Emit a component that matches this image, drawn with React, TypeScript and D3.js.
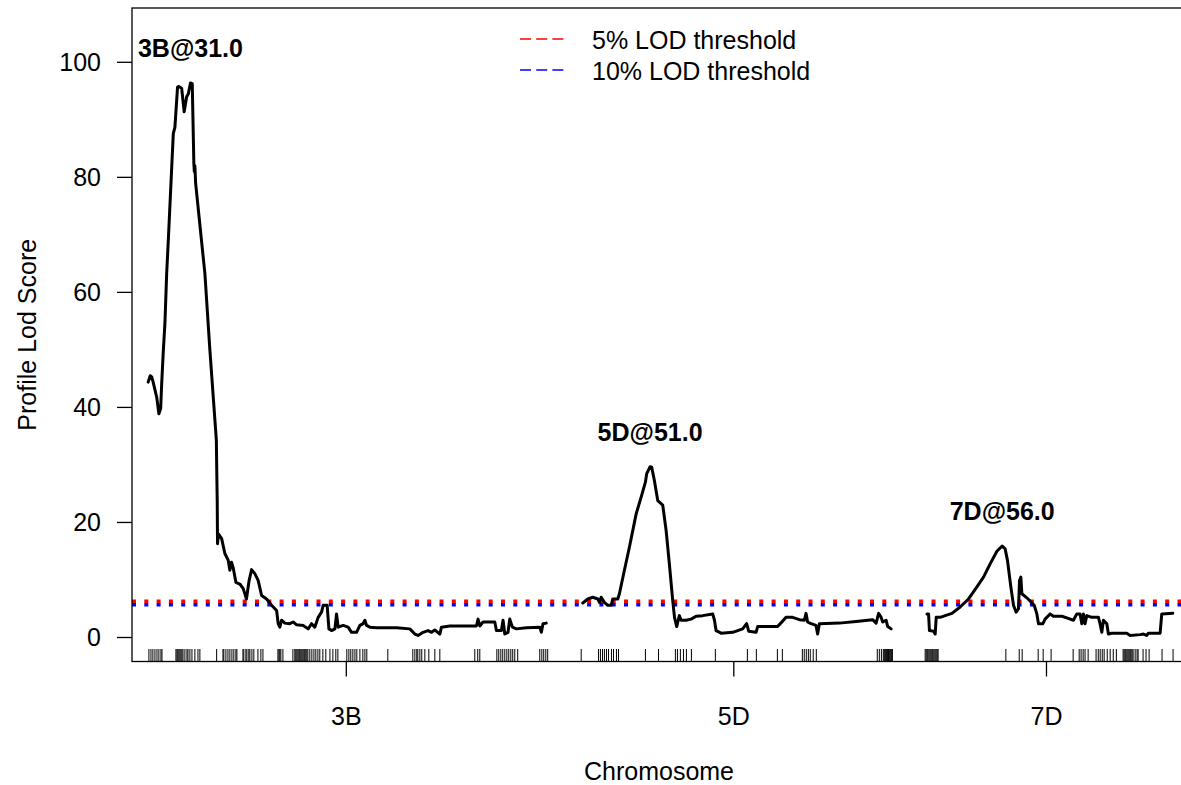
import React from "react";
import * as d3 from "d3";

// ---------- data ----------
const chromosomes = ["3B", "5D", "7D"];
const chromLengths = [274.1, 215.9, 172.3]; // cM
const chromGap = 18.7; // cM between chromosomes

// profile LOD curves: [position cM, LOD]
const lod3B: [number, number][] = [
  [2.2, 44.4], [3.6, 45.5], [4.6, 45.3], [5.6, 44.4], [8.0, 41.8], [9.5, 38.9], [10.7, 39.8],
  [11.4, 44.1], [12.4, 49.3], [13.6, 54.6], [14.8, 63.3], [15.9, 69.0], [19.3, 87.6], [20.4, 88.7],
  [22.2, 95.7], [23.1, 95.8], [25.0, 95.5], [26.7, 91.4], [28.4, 94.0], [29.5, 94.5], [31.0, 96.4],
  [32.2, 96.3], [33.3, 82.4], [33.6, 81.0], [34.0, 82.0], [34.5, 79.0], [38.5, 69.0], [40.8, 63.3],
  [44.2, 50.0], [46.5, 41.8], [48.6, 34.3], [49.0, 27.0], [49.2, 23.8], [49.4, 16.3], [50.0, 18.0],
  [52.2, 17.2], [54.4, 14.6], [56.7, 13.4], [57.8, 11.7], [58.9, 13.1], [60.0, 12.2], [61.9, 9.6],
  [64.6, 9.3], [66.9, 8.5], [69.1, 6.7], [70.9, 9.9], [72.6, 11.8], [74.8, 11.1], [77.1, 9.9],
  [79.4, 7.3], [82.8, 6.7], [86.2, 5.6], [89.6, 4.7], [90.7, 2.4], [91.8, 1.8], [93.0, 3.0],
  [95.2, 2.5], [98.6, 2.4], [100.9, 2.7], [103.2, 2.2], [107.7, 2.1], [111.1, 1.5], [113.4, 2.4],
  [115.6, 1.8], [117.9, 3.5], [120.2, 4.4], [121.3, 5.6], [124.0, 5.6], [125.2, 1.5], [127.0, 1.2],
  [129.3, 1.5], [130.4, 4.1], [131.5, 1.8], [134.9, 2.1], [138.3, 1.8], [140.6, 0.9], [144.0, 0.9],
  [146.3, 2.1], [148.5, 2.4], [149.7, 3.0], [150.8, 2.1], [153.1, 1.8], [157.6, 1.7], [171.2, 1.7],
  [180.3, 1.5], [183.7, 0.6], [185.9, 0.35], [189.3, 0.9], [192.7, 1.2], [195.0, 0.9], [197.3, 1.3],
  [200.7, 0.6], [201.8, 1.8], [207.5, 2.0], [225.6, 2.0], [226.7, 3.2], [227.9, 2.0], [230.1, 2.7],
  [238.1, 2.7], [239.2, 1.2], [242.6, 1.2], [243.7, 3.0], [244.9, 0.6], [247.1, 0.9], [248.3, 3.2],
  [250.1, 1.8], [252.8, 1.5], [259.6, 1.7], [268.7, 1.8], [269.8, 0.9], [270.9, 2.4], [273.1, 2.5],
];

const lod5D: [number, number][] = [
  [5.2, 6.0], [8.6, 6.7], [12.0, 7.0], [15.4, 6.7], [16.5, 6.1], [17.7, 7.0], [19.9, 6.1],
  [22.2, 5.6], [24.5, 5.6], [25.6, 6.7], [29.0, 6.7], [30.1, 7.6], [33.5, 11.7], [36.9, 15.7],
  [41.5, 21.5], [44.9, 24.4], [47.8, 27.0], [48.7, 28.5], [51.0, 29.7], [52.1, 29.6], [53.9, 27.3],
  [56.2, 23.8], [59.6, 23.0], [61.9, 18.6], [64.1, 12.8], [66.4, 6.4], [67.6, 3.5], [69.1, 1.9],
  [70.9, 3.8], [72.1, 3.0], [75.5, 3.0], [78.9, 3.2], [82.3, 3.7], [86.8, 3.8], [93.6, 4.1],
  [94.8, 3.0], [95.9, 1.2], [99.3, 0.75], [107.2, 0.9], [114.0, 1.5], [116.7, 2.4], [118.1, 1.1],
  [123.1, 0.9], [124.2, 1.9], [137.8, 1.9], [143.5, 3.5], [148.0, 3.5], [152.6, 3.1], [156.0, 3.0],
  [157.1, 4.2], [158.2, 2.7], [160.5, 2.4], [163.9, 2.1], [165.0, 0.6], [166.2, 2.4], [179.8, 2.5],
  [191.2, 2.8], [202.4, 3.1], [204.8, 2.5], [206.5, 4.2], [208.2, 3.5], [209.3, 2.7], [211.6, 3.0],
  [212.7, 1.9], [215.0, 1.5],
];

const lod7D: [number, number][] = [
  [4.8, 4.1], [5.9, 4.1], [6.5, 1.2], [9.3, 1.1], [10.4, 0.6], [11.1, 3.5], [13.8, 3.5],
  [17.2, 3.8], [21.8, 4.2], [27.4, 5.3], [33.1, 6.7], [38.8, 8.8], [43.3, 10.5], [47.8, 12.8],
  [52.4, 15.0], [56.0, 15.9], [58.0, 15.4], [59.6, 13.4], [61.9, 8.8], [63.7, 5.6], [65.5, 4.4],
  [67.1, 5.0], [67.8, 9.9], [68.7, 10.5], [69.4, 7.6], [72.8, 6.9], [77.8, 5.6], [79.6, 4.1],
  [80.7, 2.4], [83.7, 2.4], [85.2, 3.2], [88.6, 4.1], [90.9, 3.7], [96.6, 3.7], [100.0, 3.4],
  [104.5, 3.0], [106.8, 4.1], [109.0, 4.1], [110.2, 2.4], [111.3, 4.1], [112.4, 2.4], [113.6, 3.8],
  [117.0, 3.5], [121.5, 3.5], [122.6, 2.4], [123.8, 0.9], [124.9, 3.0], [127.2, 2.4], [128.3, 0.6],
  [130.6, 0.75], [140.8, 0.75], [143.1, 0.35], [149.9, 0.5], [152.1, 0.6], [154.4, 0.35],
  [155.5, 0.75], [163.5, 0.75], [164.6, 4.1], [172.1, 4.2],
];

// marker positions (cM)
const markers3B = [
  2.7, 4.1, 5.4, 6.8, 8.2, 9.5, 10.9, 11.6, 21.1, 21.8, 22.4, 23.1, 23.8, 24.5, 25.2, 25.9, 27.2,
  28.6, 29.3, 30.6, 32.0, 34.0, 36.1, 37.4, 48.8, 53.1, 53.7, 55.1, 56.5, 57.8, 59.2, 60.5, 61.9,
  62.6, 66.7, 67.3, 68.7, 69.4, 70.7, 71.4, 72.8, 74.1, 76.9, 78.9, 80.3, 90.5, 91.2, 91.8, 92.5,
  93.9, 100.7, 102.0, 102.7, 103.4, 104.1, 104.8, 105.4, 106.1, 106.8, 107.5, 108.2, 108.8, 109.5,
  110.2, 110.9, 112.2, 113.6, 115.0, 116.3, 117.7, 119.0, 121.1, 123.1, 125.9, 127.9, 129.9, 131.3,
  137.4, 138.8, 140.1, 141.5, 142.9, 144.2, 146.3, 148.3, 149.7, 151.0, 165.3, 182.3, 183.7, 185.0,
  185.7, 187.1, 188.4, 190.5, 193.2, 197.3, 200.7, 224.5, 226.5, 227.9, 239.5, 240.8, 242.2, 243.5,
  244.9, 246.3, 247.6, 249.0, 250.3, 251.7, 253.7, 268.7, 270.1, 271.4, 272.8, 274.1,
];
const markers5D = [
  4.1, 15.9, 17.2, 18.6, 19.9, 21.3, 22.7, 24.7, 26.1, 28.1, 29.5, 47.8, 56.7, 68.2, 69.6, 71.6,
  73.7, 75.7, 79.1, 95.4, 117.2, 123.3, 137.6, 141.0, 154.6, 155.9, 157.3, 158.7, 160.0, 162.0,
  164.1, 205.6, 207.0, 208.4, 209.7, 210.4, 211.1, 211.8, 212.5, 213.2, 213.8, 214.5, 215.2, 215.9,
];
const markers7D = [
  3.6, 4.3, 5.0, 5.6, 6.3, 7.0, 7.7, 8.4, 9.0, 9.7, 10.4, 11.1, 11.8, 12.4, 58.5, 67.6, 69.6, 80.5,
  83.9, 89.3, 104.3, 108.4, 109.7, 111.1, 112.4, 114.5, 119.9, 121.4, 122.7, 124.1, 125.4, 127.5,
  129.5, 131.6, 133.7, 138.3, 139.0, 139.7, 140.3, 141.0, 141.7, 142.4, 143.1, 143.7, 144.4, 145.1,
  146.5, 147.8, 148.5, 151.9, 153.9, 156.0, 164.8, 172.3,
];

const curves = [lod3B, lod5D, lod7D];
const markerSets = [markers3B, markers5D, markers7D];

const peakPositions = [31.0, 51.0, 56.0]; // cM, one per chromosome
const thresholdLabels = ["5% LOD threshold", "10% LOD threshold"];
const thresholdValues = [6.3, 5.7];
const thresholdColors = ["#FF0000", "#0000FF"];
const yTicks = [0, 20, 40, 60, 80, 100];

// ---------- layout ----------
const W = 1181;
const H = 785;
const plotLeft = 132;
const plotTop = 8;
const plotBottom = 661.5;
const FONT = "'Liberation Sans', Arial, Helvetica, sans-serif";
const FS = 25;

export default function App() {
  const offsets: number[] = [];
  let acc = 0;
  chromLengths.forEach((len) => {
    offsets.push(acc);
    acc += len + chromGap;
  });
  const total = acc - chromGap;
  const pad = 8.8;
  const xScale = d3.scaleLinear().domain([-pad, total + pad]).range([plotLeft, 1186]);
  const yScale = d3.scaleLinear().domain([0, 100]).range([637.5, 62.3]);

  const line = d3
    .line<[number, number]>()
    .x((d) => d[0])
    .y((d) => yScale(d[1]));

  const plotRight = xScale(total + pad);

  return (
    <div style={{ position: "absolute", left: 0, top: 0 }}>
      <svg width={W} height={H} style={{ display: "block", background: "#fff" }}>
        <rect x={0} y={0} width={W} height={H} fill="#fff" />
        {/* thresholds */}
        {thresholdValues.map((v, i) => (
          <line
            key={"th" + i}
            x1={plotLeft}
            x2={plotRight}
            y1={yScale(v)}
            y2={yScale(v)}
            stroke={thresholdColors[i]}
            strokeWidth={3.5}
            strokeDasharray="4 8.3"
          />
        ))}
        {/* marker rug */}
        {markerSets.map((ms, ci) =>
          ms.map((m, j) => {
            const x = xScale(offsets[ci] + m);
            return (
              <line key={`m${ci}-${j}`} x1={x} x2={x} y1={649} y2={plotBottom} stroke="#000" strokeWidth={1} />
            );
          })
        )}
        {/* LOD curves */}
        {curves.map((c, ci) => (
          <path
            key={"c" + ci}
            d={line(c.map((p) => [xScale(offsets[ci] + p[0]), p[1]] as [number, number])) || ""}
            fill="none"
            stroke="#000"
            strokeWidth={3}
            strokeLinejoin="round"
            strokeLinecap="round"
          />
        ))}
        {/* peak labels */}
        {peakPositions.map((pp, ci) => {
          const pt = curves[ci].find((p) => p[0] === pp);
          const lodv = pt ? pt[1] : d3.max(curves[ci], (p) => p[1]) || 0;
          return (
            <text
              key={"pk" + ci}
              x={xScale(offsets[ci] + pp)}
              y={yScale(lodv + 6)}
              dy="0.35em"
              textAnchor="middle"
              fontFamily={FONT}
              fontWeight="bold"
              fontSize={FS}
              fill="#000"
            >
              {`${chromosomes[ci]}@${pp.toFixed(1)}`}
            </text>
          );
        })}
        {/* box */}
        <rect
          x={plotLeft}
          y={plotTop}
          width={plotRight - plotLeft}
          height={plotBottom - plotTop}
          fill="none"
          stroke="#000"
          strokeWidth={1.3}
        />
        {/* y axis */}
        {yTicks.map((t) => (
          <g key={"y" + t}>
            <line x1={plotLeft - 15} x2={plotLeft} y1={yScale(t)} y2={yScale(t)} stroke="#000" strokeWidth={1.3} />
            <text
              x={101}
              y={yScale(t)}
              dy="0.35em"
              textAnchor="end"
              fontFamily={FONT}
              fontSize={FS}
              fill="#000"
            >
              {t}
            </text>
          </g>
        ))}
        <text
          transform={`translate(27,${(plotTop + plotBottom) / 2}) rotate(-90)`}
          dy="0.35em"
          textAnchor="middle"
          fontFamily={FONT}
          fontSize={FS}
          fill="#000"
        >
          Profile Lod Score
        </text>
        {/* x axis */}
        {chromosomes.map((c, ci) => {
          const x = xScale(offsets[ci] + chromLengths[ci] / 2);
          return (
            <g key={"x" + c}>
              <line x1={x} x2={x} y1={plotBottom} y2={plotBottom + 15} stroke="#000" strokeWidth={1.3} />
              <text x={x} y={716} dy="0.35em" textAnchor="middle" fontFamily={FONT} fontSize={FS} fill="#000">
                {c}
              </text>
            </g>
          );
        })}
        <text x={(plotLeft + plotRight) / 2} y={771} dy="0.35em" textAnchor="middle" fontFamily={FONT} fontSize={FS} fill="#000">
          Chromosome
        </text>
        {/* legend */}
        {thresholdLabels.map((lab, i) => {
          const y = 39 + i * 31;
          return (
            <g key={"lg" + i}>
              <line x1={520} x2={563.5} y1={y} y2={y} stroke={thresholdColors[i]} strokeWidth={1.4} strokeDasharray="11 5.2" />
              <text x={592} y={y + 1.5} dy="0.35em" fontFamily={FONT} fontSize={FS} fill="#000">
                {lab}
              </text>
            </g>
          );
        })}
      </svg>
    </div>
  );
}
